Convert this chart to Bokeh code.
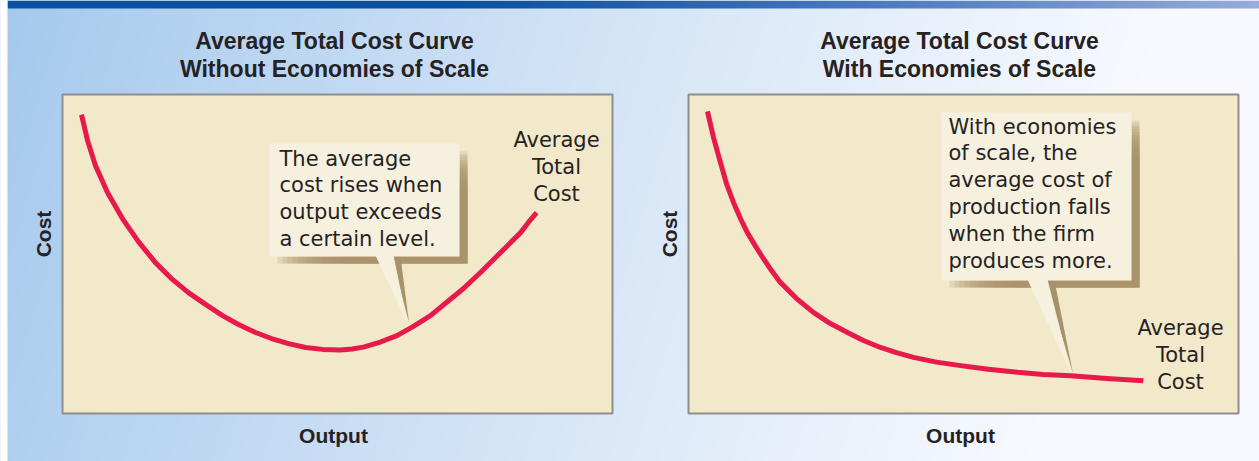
import numpy as np
from bokeh.plotting import figure
from bokeh.models import Range1d
from bokeh.core.properties import value
from bokeh.embed import file_html
from bokeh.resources import INLINE

# ---------------- data ----------------
# left panel: U-shaped average total cost (output / cost in % of axis length)
left_output = [3.45, 4.55, 6.0, 8.18, 10.9, 13.8, 16.9, 19.8, 22.9, 26.0, 29.1,
               32.0, 35.1, 38.0, 41.1, 44.2, 47.3, 50.5, 52.7, 54.7, 57.8, 60.9,
               63.8, 66.9, 69.8, 72.9, 76.0, 79.1, 81.3, 83.3, 84.7, 86.2]
left_cost = [93.7, 85.6, 77.7, 69.3, 61.1, 53.9, 47.3, 42.3, 37.9, 34.2, 30.7,
             27.9, 25.4, 23.5, 21.9, 20.7, 20.1, 19.9, 20.2, 20.8, 22.4, 24.5,
             27.3, 30.7, 34.8, 39.2, 44.2, 49.5, 53.3, 56.7, 59.9, 63.0]
# right panel: falling average total cost
right_output = [3.45, 4.55, 5.8, 6.9, 8.2, 9.45, 10.7, 12.2, 13.6, 15.1, 16.7,
                19.6, 22.7, 25.8, 28.9, 31.8, 34.9, 37.8, 40.9, 45.1, 49.5,
                54.5, 59.8, 64.5, 69.5, 76.0, 82.7]
right_cost = [94.7, 86.5, 78.7, 72.1, 66.1, 61.1, 56.7, 52.4, 48.6, 44.8, 41.1,
              36.1, 31.7, 28.2, 25.4, 22.9, 20.7, 19.1, 17.6, 16.1, 15.0,
              13.9, 12.9, 12.2, 11.8, 11.0, 10.3]

titles_left = ["Average Total Cost Curve", "Without Economies of Scale"]
titles_right = ["Average Total Cost Curve", "With Economies of Scale"]
x_label = "Output"
y_label = "Cost"
curve_label = ["Average", "Total", "Cost"]
note_left = ["The average", "cost rises when", "output exceeds", "a certain level."]
note_right = ["With economies", "of scale, the", "average cost of",
              "production falls", "when the firm", "produces more."]

# ---------------- layout (screen pixels) ----------------
OX, OY = 0, 0
W, H = 1259, 461
PANELS = [(62, 612, 94, 413), (688, 1238, 94, 413)]
DY = -8  # text baseline correction

TXT = "#262223"
CURVE = "#e8194b"
PANEL_FILL = "#f1e9ca"
BOX_FILL = "#f6f1df"
SHADOW = "#a8926b"

p = figure(width=W, height=H, output_backend="svg", toolbar_location=None,
           x_range=Range1d(OX, OX + W), y_range=Range1d(OY + H, OY),
           x_axis_location=None, y_axis_location=None, min_border=0,
           outline_line_color=None)
p.xgrid.visible = False
p.ygrid.visible = False
p.background_fill_color = "#ffffff"
p.border_fill_color = "#ffffff"

# extra ranges so each panel's 0..100 data maps onto its box
for i, (L, R, T, B) in enumerate(PANELS, start=1):
    sx = 100.0 / (R - L)
    sy = 100.0 / (B - T)
    p.extra_x_ranges["x%d" % i] = Range1d(0 - (L - OX) * sx, 100 + (OX + W - R) * sx)
    p.extra_y_ranges["y%d" % i] = Range1d(0 - (OY + H - B) * sy, 100 + (T - OY) * sy)

# background gradient
nx, ny = 630, 231
gx = np.linspace(OX, OX + W, nx)
gy = np.linspace(OY, OY + H, ny)
X, Y = np.meshgrid(gx, gy)
t = np.clip((X - 10 + 0.3 * (Y - 8)) / 1150.0, 0, 1) ** 0.9
c0 = np.array([165, 201, 237])
c1 = np.array([247, 249, 254])
img = np.empty((ny, nx), dtype=np.uint32)
v = img.view(dtype=np.uint8).reshape((ny, nx, 4))
for k in range(3):
    v[:, :, k] = (c0[k] + (c1[k] - c0[k]) * t).astype(np.uint8)
v[:, :, 3] = 255
p.image_rgba(image=[img], x=OX, y=OY, dw=W, dh=H)

# top bar gradient
bx = np.linspace(0, 1, 252)
bar = np.empty((1, bx.size), dtype=np.uint32)
bv = bar.view(dtype=np.uint8).reshape((1, bx.size, 4))
b0 = np.array([10, 80, 164])
b1 = np.array([150, 172, 220])
tb = np.clip((bx - 0.35) / 0.65, 0, 1) ** 1.2
for k in range(3):
    bv[0, :, k] = (b0[k] + (b1[k] - b0[k]) * tb).astype(np.uint8)
bv[0, :, 3] = 255
p.image_rgba(image=[bar], x=7, y=0, dw=W - 7, dh=8)
p.quad(left=0, right=7, top=0, bottom=H, fill_color="#ffffff", line_color=None)

# panels
for (L, R, T, B) in PANELS:
    p.quad(left=L, right=R, top=T, bottom=B, fill_color=PANEL_FILL,
           line_color="#8e8e8e", line_width=2)

# titles
for titles, cx in ((titles_left, 334), (titles_right, 959)):
    p.text(x=[cx, cx], y=[48 + DY, 76 + DY], text=titles, text_align="center",
           text_baseline="alphabetic", text_font=value("Liberation Sans"),
           text_font_style="bold", text_font_size="23px", text_color=TXT)

# axis labels
for (L, R, T, B), cx in zip(PANELS, (43, 669)):
    p.text(x=[cx], y=[(T + B) / 2 - 20], text=[y_label], angle=np.pi / 2,
           text_align="center", text_baseline="middle",
           text_font=value("Liberation Sans"), text_font_style="bold",
           text_font_size="21px", text_color=TXT)
for lx in (333, 960):
    p.text(x=[lx], y=[443 + DY], text=[x_label], text_align="center",
           text_baseline="alphabetic", text_font=value("Liberation Sans"),
           text_font_style="bold", text_font_size="21px", text_color=TXT)


def callout(L, T, R, B, base_l, base_r, tip_x, tip_y, lines, tx, ty0):
    off = 8
    n = 14
    a = 0.2
    fade = 70
    # bottom shadow strip: nested overlapping quads build a fade-in on the left
    ls = [L + off + i * fade / n for i in range(n)]
    p.quad(left=ls, right=[R + off] * n, top=[B] * n, bottom=[B + 7] * n,
           fill_color=SHADOW, fill_alpha=a, line_color=None)
    # right shadow strip: fade-in at the top
    fv = 40
    ts = [T + off + i * fv / n for i in range(n)]
    p.quad(left=[R] * n, right=[R + off] * n, top=ts, bottom=[B] * n,
           fill_color=SHADOW, fill_alpha=a, line_color=None)
    # pointer shadow
    p.patch([base_r - 2, base_r + 7, tip_x + 1.5], [B, B, tip_y - 1],
            fill_color=SHADOW, line_color=None)
    # box and pointer
    p.quad(left=L, right=R, top=T, bottom=B, fill_color=BOX_FILL, line_color=None)
    p.patch([base_l, base_r, tip_x], [B - 1, B - 1, tip_y],
            fill_color=BOX_FILL, line_color=None)
    p.text(x=[tx] * len(lines), y=[ty0 + DY + 26.8 * i for i in range(len(lines))],
           text=lines, text_align="left", text_baseline="alphabetic",
           text_font=value("DejaVu Sans"), text_font_size="21px", text_color=TXT)


callout(269, 143, 459, 256, 375, 393, 407, 323, note_left, 279, 166)
callout(941, 112, 1131, 280, 1027, 1047, 1071, 374, note_right, 948, 134)

# curve labels
for cx, y0 in ((556, 147), (1180, 335)):
    p.text(x=[cx] * 3, y=[y0 + DY + 27 * i for i in range(3)], text=curve_label,
           text_align="center", text_baseline="alphabetic",
           text_font=value("DejaVu Sans"), text_font_size="21px", text_color=TXT)

# curves
p.line(left_output, left_cost, x_range_name="x1", y_range_name="y1",
       line_color=CURVE, line_width=5, line_join="round")
p.line(right_output, right_cost, x_range_name="x2", y_range_name="y2",
       line_color=CURVE, line_width=5, line_join="round")

open("out.html", "w").write(file_html(p, INLINE))
